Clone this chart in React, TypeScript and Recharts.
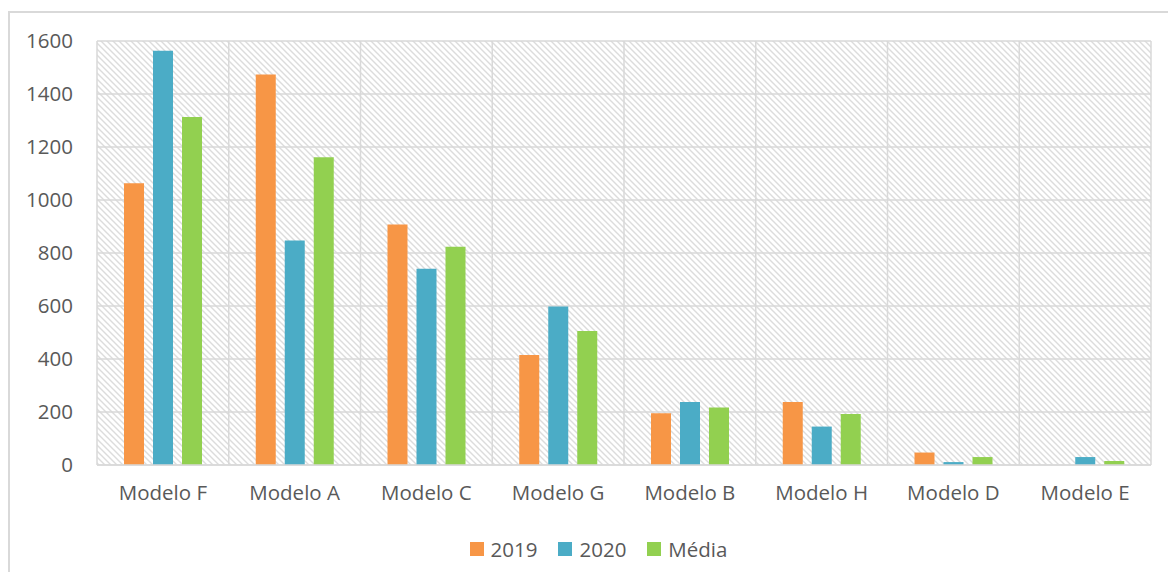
import React from "react";
import {
  BarChart,
  Bar,
  XAxis,
  YAxis,
  CartesianGrid,
  Legend,
} from "recharts";

const categories = [
  "Modelo F",
  "Modelo A",
  "Modelo C",
  "Modelo G",
  "Modelo B",
  "Modelo H",
  "Modelo D",
  "Modelo E",
];
const values2019 = [1063, 1474, 908, 415, 195, 238, 47, 0];
const values2020 = [1563, 847, 741, 598, 238, 145, 11, 30];
const valuesMedia = [1313, 1161, 824, 506, 217, 192, 30, 15];
const yTicks = [0, 200, 400, 600, 800, 1000, 1200, 1400, 1600];

const series = [
  { key: "y2019", name: "2019", color: "#F79646" },
  { key: "y2020", name: "2020", color: "#4BACC6" },
  { key: "media", name: "Média", color: "#92D050" },
];

const data = categories.map((name, i) => ({
  name,
  y2019: values2019[i],
  y2020: values2020[i],
  media: valuesMedia[i],
}));

const FONT = "'Open Sans', sans-serif";
const TEXT = "#595959";
const GRID = "#d9d9d9";

const LegendContent = () => (
  <div
    style={{
      display: "flex",
      justifyContent: "center",
      gap: 21,
      paddingLeft: 46,
      fontFamily: FONT,
      fontSize: 20.5,
      color: TEXT,
    }}
  >
    {series.map((s) => (
      <div key={s.key} style={{ display: "flex", alignItems: "center", gap: 7 }}>
        <span style={{ width: 14, height: 14, background: s.color, display: "inline-block" }} />
        <span>{s.name}</span>
      </div>
    ))}
  </div>
);

export default function App() {
  return (
    <div style={{ position: "relative", margin: -8, width: 1176, height: 580, overflow: "hidden", background: "#fff" }}>
      <div
        style={{
          position: "absolute",
          left: 8,
          top: 11,
          width: 1200,
          height: 600,
          border: `2px solid ${GRID}`,
          boxSizing: "border-box",
        }}
      />
      <div style={{ position: "absolute", left: 0, top: 0 }}>
        <BarChart
          width={1176}
          height={580}
          data={data}
          margin={{ top: 41, right: 25, bottom: 57, left: 0 }}
          barSize={20}
          barGap={9}
        >
          <defs>
            <pattern id="hatch" width="6" height="6" patternUnits="userSpaceOnUse">
              <rect width="6" height="6" fill="#fff" />
              <path d="M0,0 L6,6 M-3,3 L3,9 M3,-3 L9,3" stroke="#dcdcdc" strokeWidth={1.4} />
            </pattern>
          </defs>
          <CartesianGrid
            fill="url(#hatch)"
            fillOpacity={1}
            stroke={GRID}
            strokeWidth={1.5}
            verticalCoordinatesGenerator={({ offset }: any) =>
              categories
                .concat([""])
                .map((_, i) => offset.left + (i * offset.width) / categories.length)
            }
          />
          <XAxis
            dataKey="name"
            tickLine={false}
            axisLine={{ stroke: GRID, strokeWidth: 1.5 }}
            tickMargin={14}
            tick={{ fontSize: 20.5, fill: TEXT, fontFamily: FONT }}
            interval={0}
          />
          <YAxis
            width={97}
            domain={[0, 1600]}
            ticks={yTicks}
            tickLine={false}
            axisLine={false}
            tickMargin={18}
            tick={{ fontSize: 20.5, fill: TEXT, fontFamily: FONT }}
          />
          <Legend
            verticalAlign="bottom"
            content={<LegendContent />}
            wrapperStyle={{ bottom: 17 }}
          />
          {series.map((s) => (
            <Bar
              key={s.key}
              dataKey={s.key}
              name={s.name}
              fill={s.color}
              isAnimationActive={false}
            />
          ))}
        </BarChart>
      </div>
    </div>
  );
}
